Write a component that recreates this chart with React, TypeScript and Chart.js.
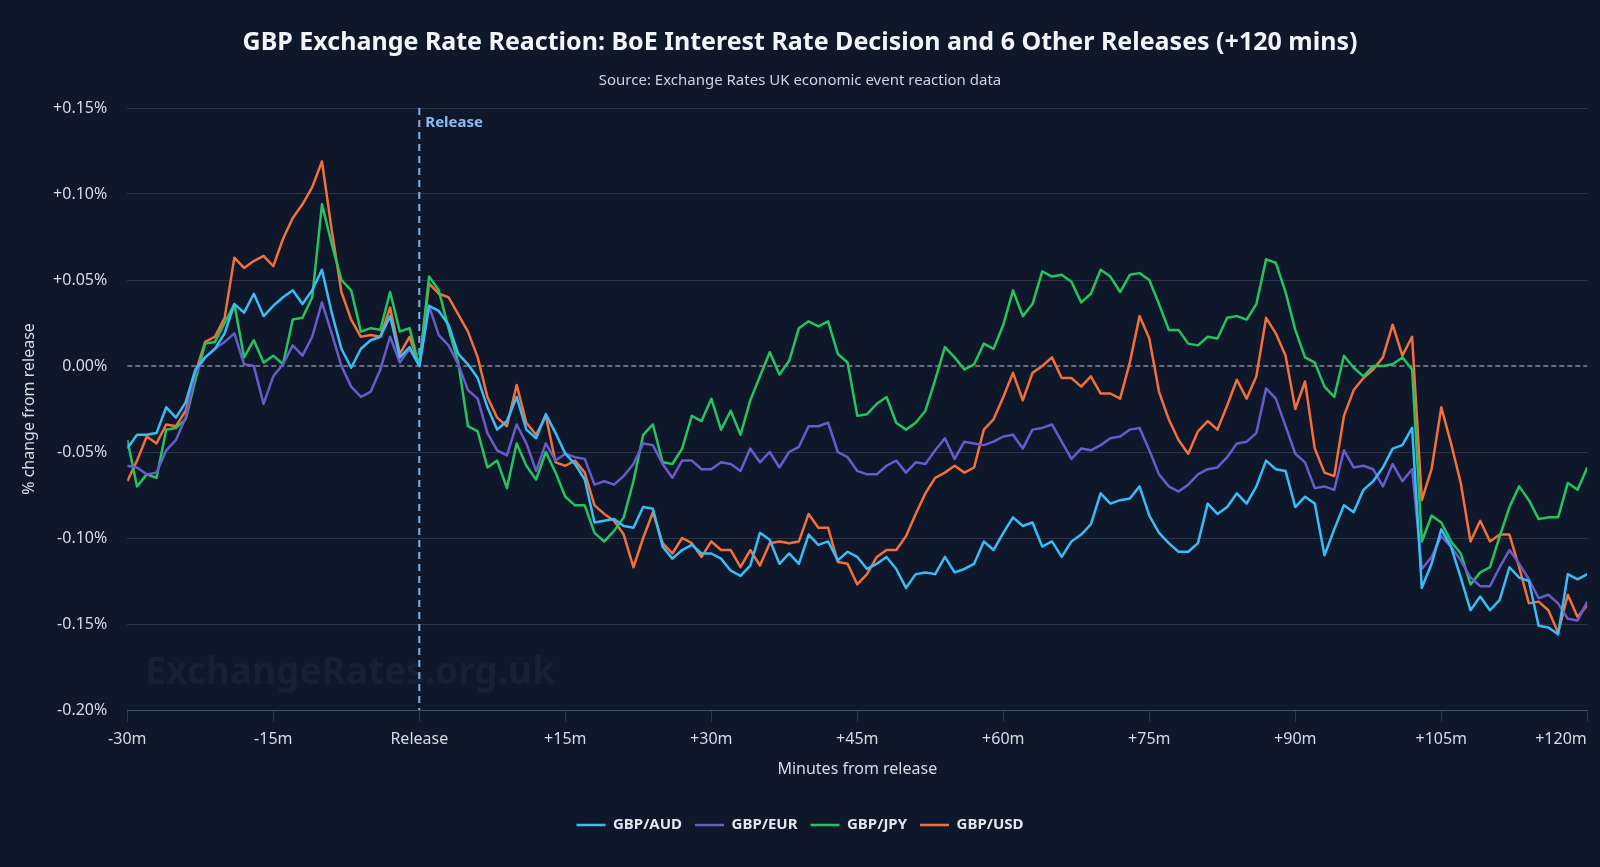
import React, { useEffect, useRef } from "react";
import { Chart, registerables } from "chart.js";

Chart.register(...registerables);

// ---------- data ----------
const START_MINUTE = -30;
const END_MINUTE = 120;
const X_TICK_STEP = 15;
const Y_MIN = -0.2;
const Y_MAX = 0.15;
const Y_STEP = 0.05;

const TITLE = "GBP Exchange Rate Reaction: BoE Interest Rate Decision and 6 Other Releases (+120 mins)";
const SUBTITLE = "Source: Exchange Rates UK economic event reaction data";
const X_TITLE = "Minutes from release";
const Y_TITLE = "% change from release";
const RELEASE_LABEL = "Release";
const WATERMARK = "ExchangeRates.org.uk";

const SERIES_NAMES = ["GBP/AUD", "GBP/EUR", "GBP/JPY", "GBP/USD"];
const SERIES_COLORS = ["#38bdf8", "#6a5acd", "#22c55e", "#f4703a"];

// one value per minute, from -30m to +120m (% change vs release)
const GBP_AUD = [
  -0.048, -0.040, -0.040, -0.039, -0.024, -0.030, -0.021, -0.002, 0.005, 0.010,
  0.019, 0.036, 0.031, 0.042, 0.029, 0.035, 0.040, 0.044, 0.036, 0.044,
  0.056, 0.031, 0.010, -0.001, 0.010, 0.015, 0.017, 0.029, 0.005, 0.011,
  0.000, 0.035, 0.032, 0.024, 0.007, 0.001, -0.007, -0.024, -0.037, -0.032,
  -0.018, -0.037, -0.042, -0.028, -0.039, -0.051, -0.057, -0.066, -0.091, -0.090,
  -0.089, -0.093, -0.094, -0.082, -0.083, -0.105, -0.112, -0.107, -0.104, -0.109,
  -0.109, -0.112, -0.119, -0.122, -0.116, -0.097, -0.101, -0.115, -0.109, -0.115,
  -0.098, -0.104, -0.102, -0.113, -0.108, -0.111, -0.118, -0.115, -0.111, -0.118,
  -0.129, -0.121, -0.120, -0.121, -0.111, -0.120, -0.118, -0.115, -0.102, -0.107,
  -0.097, -0.088, -0.093, -0.091, -0.105, -0.102, -0.111, -0.102, -0.098, -0.092,
  -0.074, -0.080, -0.078, -0.077, -0.070, -0.087, -0.097, -0.103, -0.108, -0.108,
  -0.103, -0.080, -0.086, -0.082, -0.074, -0.080, -0.070, -0.055, -0.060, -0.061,
  -0.082, -0.076, -0.080, -0.110, -0.095, -0.081, -0.085, -0.072, -0.067, -0.059,
  -0.048, -0.046, -0.036, -0.129, -0.115, -0.095, -0.105, -0.123, -0.142, -0.134,
  -0.142, -0.136, -0.117, -0.123, -0.125, -0.151, -0.152, -0.156, -0.121, -0.124,
  -0.121,
];

const GBP_EUR = [
  -0.058, -0.059, -0.063, -0.062, -0.049, -0.043, -0.030, -0.004, 0.005, 0.010,
  0.014, 0.019, 0.001, 0.000, -0.022, -0.006, 0.001, 0.012, 0.006, 0.017,
  0.037, 0.019, 0.000, -0.012, -0.018, -0.015, -0.002, 0.017, 0.002, 0.010,
  0.000, 0.035, 0.018, 0.012, 0.001, -0.014, -0.019, -0.039, -0.049, -0.052,
  -0.034, -0.045, -0.061, -0.045, -0.055, -0.051, -0.053, -0.054, -0.069, -0.067,
  -0.069, -0.064, -0.057, -0.045, -0.046, -0.057, -0.065, -0.055, -0.055, -0.060,
  -0.060, -0.056, -0.057, -0.061, -0.048, -0.056, -0.050, -0.059, -0.050, -0.047,
  -0.035, -0.035, -0.033, -0.050, -0.053, -0.061, -0.063, -0.063, -0.058, -0.055,
  -0.062, -0.056, -0.057, -0.049, -0.042, -0.054, -0.044, -0.045, -0.046, -0.044,
  -0.041, -0.040, -0.048, -0.037, -0.036, -0.034, -0.044, -0.054, -0.048, -0.049,
  -0.046, -0.042, -0.041, -0.037, -0.036, -0.049, -0.063, -0.070, -0.073, -0.069,
  -0.063, -0.060, -0.059, -0.053, -0.045, -0.044, -0.039, -0.013, -0.019, -0.035,
  -0.051, -0.056, -0.071, -0.070, -0.072, -0.049, -0.059, -0.058, -0.060, -0.070,
  -0.057, -0.067, -0.060, -0.118, -0.111, -0.099, -0.105, -0.113, -0.123, -0.128,
  -0.128, -0.117, -0.107, -0.115, -0.124, -0.135, -0.133, -0.138, -0.147, -0.148,
  -0.137,
];

const GBP_JPY = [
  -0.043, -0.070, -0.063, -0.065, -0.037, -0.036, -0.031, -0.008, 0.013, 0.014,
  0.025, 0.036, 0.005, 0.015, 0.002, 0.006, 0.001, 0.027, 0.028, 0.040,
  0.094, 0.071, 0.050, 0.044, 0.020, 0.022, 0.021, 0.043, 0.020, 0.022,
  0.000, 0.052, 0.044, 0.022, 0.002, -0.035, -0.038, -0.059, -0.055, -0.071,
  -0.045, -0.058, -0.066, -0.050, -0.062, -0.076, -0.081, -0.081, -0.097, -0.102,
  -0.096, -0.088, -0.067, -0.040, -0.034, -0.056, -0.057, -0.048, -0.029, -0.032,
  -0.019, -0.037, -0.026, -0.040, -0.020, -0.006, 0.008, -0.005, 0.003, 0.022,
  0.026, 0.023, 0.026, 0.007, 0.002, -0.029, -0.028, -0.022, -0.018, -0.033,
  -0.037, -0.033, -0.026, -0.008, 0.011, 0.005, -0.002, 0.001, 0.013, 0.010,
  0.024, 0.044, 0.029, 0.036, 0.055, 0.052, 0.053, 0.049, 0.037, 0.042,
  0.056, 0.052, 0.043, 0.053, 0.054, 0.050, 0.036, 0.021, 0.021, 0.013,
  0.012, 0.017, 0.016, 0.028, 0.029, 0.027, 0.036, 0.062, 0.060, 0.043,
  0.021, 0.005, 0.002, -0.012, -0.018, 0.006, -0.001, -0.006, 0.000, 0.000,
  0.001, 0.005, -0.002, -0.102, -0.087, -0.091, -0.102, -0.109, -0.127, -0.120,
  -0.117, -0.099, -0.082, -0.070, -0.078, -0.089, -0.088, -0.088, -0.068, -0.072,
  -0.059,
];

const GBP_USD = [
  -0.067, -0.055, -0.041, -0.045, -0.034, -0.035, -0.026, -0.004, 0.014, 0.017,
  0.028, 0.063, 0.057, 0.061, 0.064, 0.058, 0.074, 0.086, 0.094, 0.104,
  0.119, 0.079, 0.043, 0.027, 0.017, 0.018, 0.017, 0.034, 0.007, 0.017,
  0.000, 0.048, 0.042, 0.040, 0.030, 0.020, 0.005, -0.018, -0.030, -0.035,
  -0.011, -0.033, -0.040, -0.029, -0.056, -0.058, -0.055, -0.062, -0.081, -0.086,
  -0.090, -0.098, -0.117, -0.100, -0.085, -0.103, -0.109, -0.100, -0.103, -0.111,
  -0.102, -0.107, -0.107, -0.117, -0.107, -0.116, -0.103, -0.102, -0.103, -0.102,
  -0.086, -0.094, -0.094, -0.114, -0.115, -0.127, -0.121, -0.111, -0.107, -0.107,
  -0.099, -0.086, -0.074, -0.065, -0.062, -0.058, -0.062, -0.059, -0.037, -0.031,
  -0.018, -0.004, -0.020, -0.004, 0.000, 0.005, -0.007, -0.007, -0.012, -0.006,
  -0.016, -0.016, -0.019, 0.002, 0.029, 0.016, -0.015, -0.031, -0.043, -0.051,
  -0.038, -0.032, -0.037, -0.023, -0.008, -0.019, -0.006, 0.028, 0.019, 0.006,
  -0.025, -0.009, -0.048, -0.062, -0.064, -0.029, -0.014, -0.007, -0.002, 0.005,
  0.024, 0.006, 0.017, -0.078, -0.060, -0.024, -0.045, -0.068, -0.102, -0.090,
  -0.102, -0.098, -0.098, -0.117, -0.138, -0.137, -0.142, -0.155, -0.133, -0.146,
  -0.139,
];

const SERIES_VALUES = [GBP_AUD, GBP_EUR, GBP_JPY, GBP_USD];

// ---------- styling ----------
const BG = "#0f172a";
const GRID = "rgba(148,163,184,0.22)";
const TEXT = "#d6dce5";
const FONT_FAMILY = '"Segoe UI", "Noto Sans", "Open Sans", sans-serif';

function formatMinute(v: number): string {
  if (v === 0) return RELEASE_LABEL;
  const base = v > 0 ? `+${v}m` : `${v}m`;
  // last label sits flush against the right edge of the plot
  return v === END_MINUTE ? base + "\u2007\u2007\u2007\u2007\u2003" : base;
}

function formatPct(v: number): string {
  if (Math.abs(v) < 1e-9) return "0.00%";
  return (v > 0 ? "+" : "") + v.toFixed(2) + "%";
}

const decorPlugin = {
  id: "decor",
  beforeDatasetsDraw(chart: any) {
    const { ctx, chartArea, scales } = chart;
    const y0 = scales.y.getPixelForValue(0);
    const xr = scales.x.getPixelForValue(0);
    ctx.save();
    // watermark
    ctx.font = `bold 37px ${FONT_FAMILY}`;
    ctx.fillStyle = "rgba(148,163,184,0.065)";
    ctx.textBaseline = "alphabetic";
    ctx.textAlign = "left";
    ctx.fillText(WATERMARK, chartArea.left + 18, chartArea.bottom - 26);
    // zero line
    ctx.strokeStyle = "rgba(235,240,248,0.8)";
    ctx.lineWidth = 1;
    ctx.setLineDash([5, 3]);
    ctx.beginPath();
    ctx.moveTo(chartArea.left, y0);
    ctx.lineTo(chartArea.right, y0);
    ctx.stroke();
    // release line
    ctx.strokeStyle = "#7fb2ee";
    ctx.lineWidth = 2;
    ctx.setLineDash([7, 5]);
    ctx.beginPath();
    ctx.moveTo(xr, chartArea.top);
    ctx.lineTo(xr, chartArea.bottom);
    ctx.stroke();
    ctx.setLineDash([]);
    ctx.font = `bold 15px ${FONT_FAMILY}`;
    ctx.fillStyle = "#8dbcf5";
    ctx.textBaseline = "middle";
    ctx.fillText(RELEASE_LABEL, xr + 6, chartArea.top + 15);
    ctx.restore();
  },
};

export default function App() {
  const canvasRef = useRef<HTMLCanvasElement | null>(null);

  useEffect(() => {
    if (!canvasRef.current) return;
    Chart.defaults.font.family = FONT_FAMILY;
    Chart.defaults.color = TEXT;

    const datasets = SERIES_NAMES.map((name, si) => ({
      label: name,
      data: SERIES_VALUES[si].map((v, i) => ({ x: START_MINUTE + i, y: v })),
      borderColor: SERIES_COLORS[si],
      backgroundColor: SERIES_COLORS[si],
      borderWidth: 2.5,
      pointRadius: 0,
      pointHoverRadius: 0,
      tension: 0,
      borderJoinStyle: "round" as const,
      fill: false,
    }));

    const chart = new Chart(canvasRef.current, {
      type: "line",
      data: { datasets },
      plugins: [decorPlugin],
      options: {
        animation: false,
        responsive: true,
        maintainAspectRatio: false,
        events: [],
        layout: { padding: { left: 12.7, right: 12.7, top: 0, bottom: 24.5 } },
        plugins: {
          title: {
            display: true,
            text: TITLE,
            color: "#f1f5f9",
            font: { size: 25, weight: "bold" },
            padding: { top: 28, bottom: 8 },
          },
          subtitle: {
            display: true,
            text: SUBTITLE,
            color: "#cbd5e1",
            font: { size: 15 },
            padding: { top: 6, bottom: 18 },
          },
          legend: {
            position: "bottom",
            labels: {
              usePointStyle: true,
              pointStyle: "line",
              pointStyleWidth: 29,
              color: "#e2e8f0",
              font: { size: 15, weight: "bold" },
              padding: 13,
            },
          },
          tooltip: { enabled: false },
        },
        scales: {
          x: {
            type: "linear",
            min: START_MINUTE,
            max: END_MINUTE,
            afterFit: (s: any) => {
              s.paddingRight = 0;
              s.paddingLeft = 0;
            },
            ticks: {
              stepSize: X_TICK_STEP,
              autoSkip: false,
              maxRotation: 0,
              minRotation: 0,
              padding: 8,
              color: TEXT,
              font: { size: 16 },
              callback: (v: any) => formatMinute(Number(v)),
            },
            grid: { drawOnChartArea: false, tickLength: 12, color: GRID },
            border: { color: GRID },
            title: {
              display: true,
              text: X_TITLE,
              color: TEXT,
              font: { size: 16 },
              padding: { top: 3, bottom: 25.1 },
            },
          },
          y: {
            min: Y_MIN,
            max: Y_MAX,
            afterFit: (s: any) => {
              s.width = 114.6;
            },
            ticks: {
              stepSize: Y_STEP,
              padding: 20,
              color: TEXT,
              font: { size: 16 },
              callback: (v: any) => formatPct(Number(v)),
            },
            grid: {
              drawTicks: false,
              color: (c: any) =>
                c.tick && Math.abs(c.tick.value) < 1e-9 ? "rgba(0,0,0,0)" : GRID,
            },
            border: { display: false },
            title: {
              display: true,
              text: Y_TITLE,
              color: TEXT,
              font: { size: 16 },
              padding: { top: 7, bottom: 0 },
            },
          },
        },
      },
    } as any);

    return () => chart.destroy();
  }, []);

  return (
    <div style={{ position: "fixed", inset: 0, background: BG }}>
      <canvas ref={canvasRef} />
    </div>
  );
}
